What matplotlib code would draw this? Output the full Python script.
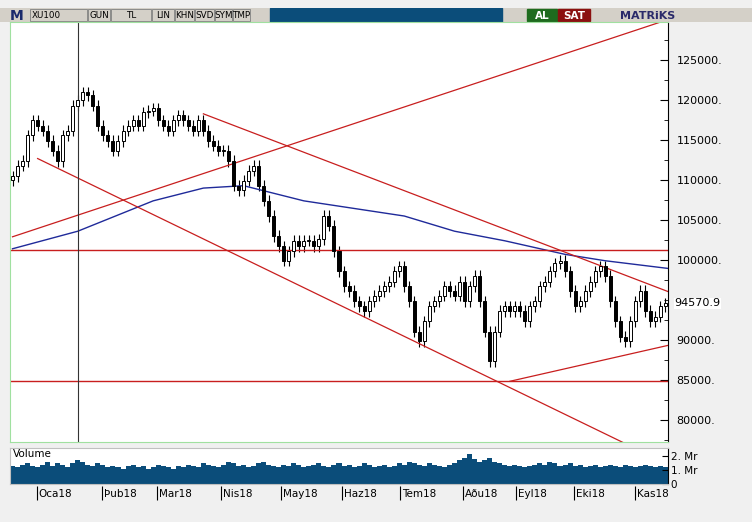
import matplotlib.pyplot as plt
from matplotlib.patches import Rectangle
import numpy as np

# --- Data (~2 trading days per candle) ---
closes = [110500, 111800, 112400, 115600, 117500, 116800, 116200, 114900, 113700, 112400,
          115600, 116200, 119300, 120000, 121000, 120600, 119300, 116800, 115600, 114900,
          113700, 114900, 116200, 116800, 117500, 116800, 118500, 118700, 119000, 117500,
          116800, 116200, 117500, 118100, 117500, 116800, 116200, 117500, 116200, 114900,
          114300, 113700, 113700, 112400, 109300, 108700, 109900, 111200, 111800, 109300,
          107400, 105500, 103000, 101700, 99900, 101100, 102400, 101700, 102400, 102400,
          101700, 102600, 105500, 104300, 101100, 98600, 96700, 96100, 94800, 94200,
          93600, 94800, 95500, 96100, 96700, 97300, 98600, 99200, 96700, 94800,
          91000, 89800, 92300, 94200, 94800, 95500, 96700, 96100, 95500, 97300,
          94800, 96700, 98000, 94800, 91000, 87300, 91000, 93600, 94200, 93600,
          94200, 93600, 92300, 94200, 94800, 96700, 97300, 98600, 99600, 99900,
          98600, 96100, 94200, 94800, 96100, 97300, 98600, 99200, 98000, 94800,
          92300, 90400, 89800, 92300, 94800, 96100, 93600, 92300, 92900, 94200, 94570.9]
first_open = 110000
volume = [1.3, 1.2, 1.4, 1.5, 1.3, 1.2, 1.4, 1.6, 1.3, 1.5, 1.4, 1.2, 1.5, 1.7, 1.6, 1.4, 1.3, 1.5, 1.4, 1.2,
          1.3, 1.2, 1.1, 1.3, 1.4, 1.2, 1.3, 1.1, 1.2, 1.4, 1.3, 1.2, 1.1, 1.3, 1.2, 1.4, 1.3, 1.2, 1.5, 1.4,
          1.3, 1.2, 1.4, 1.6, 1.5, 1.3, 1.4, 1.2, 1.3, 1.5, 1.6, 1.4, 1.3, 1.2, 1.4, 1.3, 1.5, 1.4, 1.2, 1.3,
          1.4, 1.5, 1.3, 1.2, 1.4, 1.5, 1.3, 1.4, 1.2, 1.3, 1.5, 1.4, 1.2, 1.3, 1.4, 1.2, 1.3, 1.5, 1.4, 1.6,
          1.5, 1.4, 1.3, 1.5, 1.4, 1.3, 1.2, 1.4, 1.5, 1.7, 1.9, 2.2, 1.8, 1.6, 1.7, 1.9, 1.6, 1.5, 1.4, 1.3,
          1.4, 1.3, 1.2, 1.3, 1.4, 1.5, 1.4, 1.6, 1.5, 1.3, 1.4, 1.5, 1.3, 1.4, 1.2, 1.3, 1.4, 1.2, 1.3, 1.4,
          1.3, 1.2, 1.4, 1.3, 1.2, 1.3, 1.4, 1.3, 1.2, 1.3, 1.2]

# moving average (blue) sampled at candle index
ma_idx = [0, 13, 28, 38, 46, 58, 78, 88, 98, 110, 118, 131]
ma_val = [101400, 103600, 107400, 109000, 109300, 107400, 105500, 103600, 102400, 100700, 99900, 98900]

# drawn trend lines: (x0, y0, x1, y1) in candle index / price
trend_lines = [(0, 102900, 130, 130000),
               (5, 112700, 122, 77000),
               (38, 118300, 134, 95200),
               (99, 84800, 134, 89800)]
h_lines = [101200, 84800]
cursor_idx = 13

months = ["Oca18", "Þub18", "Mar18", "Nis18", "May18", "Haz18", "Tem18", "Aðu18", "Eyl18", "Eki18", "Kas18"]
month_idx = [5.2, 18.2, 29.2, 42.0, 53.8, 66.0, 77.6, 90.0, 100.6, 112.2, 124.4]
price_ticks = [125000, 120000, 115000, 110000, 105000, 100000, 90000, 85000, 80000]

W, H = 752, 522
fig = plt.figure(figsize=(W / 100, H / 100), dpi=100, facecolor="#f0f0f0")

def fx(px):
    return px / W

def fy(py):
    return 1 - py / H

# --- toolbar ---
tb = fig.add_axes([0, fy(22), 1, (22 - 8) / H])
tb.set_xlim(0, W)
tb.set_ylim(0, 1)
tb.axis("off")
tb.add_patch(Rectangle((0, 0), W, 1, color="#d4d0c8"))
tb.add_patch(Rectangle((270, 0), 232, 1, color="#0b4d7a"))
buttons = [(30, 88, "XU100"), (88, 111, "GUN"), (111, 152, "TL"), (152, 175, "LIN"),
           (175, 195, "KHN"), (195, 215, "SVD"), (215, 233, "SYM"), (233, 251, "TMP")]
for x0, x1, t in buttons:
    tb.add_patch(Rectangle((x0, 0.05), x1 - x0 - 1, 0.9, facecolor="#d4d0c8", edgecolor="#808080", lw=0.6))
    tb.text(x0 + 2 if t == "XU100" else (x0 + x1 - 1) / 2, 0.45, t, ha="left" if t == "XU100" else "center",
            va="center", fontsize=6.3, family="DejaVu Sans")
tb.text(10, 0.45, "M", fontsize=10, fontweight="bold", color="#1a2a6c", va="center")
tb.add_patch(Rectangle((527, 0.05), 30, 0.9, color="#1e6b1e"))
tb.text(542, 0.45, "AL", color="white", fontsize=7.5, fontweight="bold", ha="center", va="center")
tb.add_patch(Rectangle((558, 0.05), 32, 0.9, color="#8b1010"))
tb.text(574, 0.45, "SAT", color="white", fontsize=7.5, fontweight="bold", ha="center", va="center")
tb.text(648, 0.45, "MATRiKS", color="#2a2a6a", fontsize=8, fontweight="bold", ha="center", va="center")

# --- price panel ---
n = len(closes)
opens = [first_open] + closes[:-1]
ax = fig.add_axes([fx(10), fy(442), fx(668 - 10), (442 - 22) / H])
ax.set_facecolor("white")
for i in range(n):
    o, c = opens[i], closes[i]
    lo, hi = min(o, c) - 700, max(o, c) + 700
    ax.vlines(i, lo, hi, color="black", lw=0.8)
    up = c >= o
    ax.add_patch(Rectangle((i - 0.3, min(o, c)), 0.6, max(abs(c - o), 80),
                           facecolor="white" if up else "black", edgecolor="black", lw=0.7, zorder=3))
ax.plot(ma_idx, ma_val, color="#1f2a9a", lw=1)
for x0, y0, x1, y1 in trend_lines:
    ax.plot([x0, x1], [y0, y1], color="#c81e1e", lw=0.9)
for h in h_lines:
    ax.axhline(h, color="#c81e1e", lw=1)
ax.axvline(cursor_idx, color="#333333", lw=0.8)
ax.set_xlim(-0.5, n - 0.5)
ax.set_ylim(77200, 129800)
ax.yaxis.tick_right()
ax.set_yticks(price_ticks)
ax.set_yticklabels([f"{v}." for v in price_ticks], fontsize=8)
ax.set_yticks(np.arange(77500, 129800, 2500), minor=True)
ax.tick_params(axis="y", which="minor", length=3, direction="in")
ax.tick_params(axis="y", which="major", length=6, direction="in", pad=6)
ax.set_xticks([])
for s in ["top", "left", "bottom"]:
    ax.spines[s].set_color("#a0e0a0")
ax.spines["right"].set_color("black")
ax.text(1.01, (closes[-1] - 77200) / (129800 - 77200), f"{closes[-1]:.1f}", transform=ax.transAxes,
        fontsize=8, va="center", ha="left", bbox=dict(facecolor="white", edgecolor="none", pad=0.5))

# --- volume panel ---
vx = fig.add_axes([fx(10), fy(484), fx(668 - 10), (484 - 448) / H])
vx.bar(range(n), volume, width=1.0, color="#0b4d7a")
vx.set_xlim(-0.5, n - 0.5)
vx.set_ylim(0, 2.6)
vx.yaxis.tick_right()
vx.set_yticks([0, 1, 2])
vx.set_yticklabels(["0", "1. Mr", "2. Mr"], fontsize=7.5)
vx.tick_params(axis="y", length=4, direction="in", pad=2)
vx.set_xticks([])
vx.text(0.005, 0.97, "Volume", transform=vx.transAxes, fontsize=7.5, va="top")
for s in ["top", "left", "bottom"]:
    vx.spines[s].set_color("#c0c0c0")

# --- date axis ---
dx = fig.add_axes([fx(10), fy(506), fx(668 - 10), (506 - 486) / H])
dx.set_xlim(-0.5, n - 0.5)
dx.set_ylim(0, 1)
dx.axis("off")
for m, i in zip(months, month_idx):
    dx.vlines(i - 0.4, 0.3, 1, color="black", lw=0.8)
    dx.text(i, 0.6, m, fontsize=7.5, va="center", ha="left")

fig.savefig("out.png", dpi=100, facecolor=fig.get_facecolor())
